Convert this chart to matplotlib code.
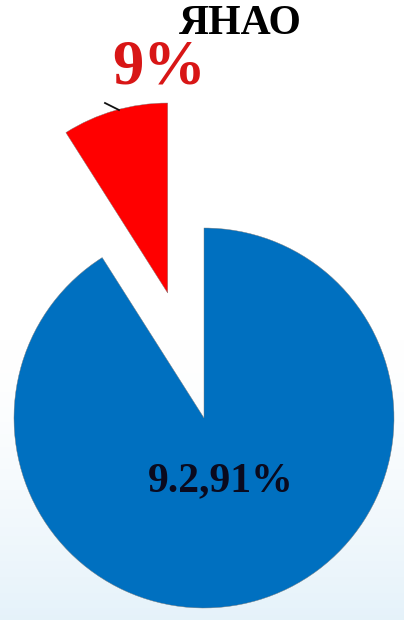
import numpy as np
import matplotlib
matplotlib.use("Agg")
import matplotlib.pyplot as plt

# data
title = "ЯНАО"
categories = ["ЯНАО прочие", "ЯНАО доля"]
values = [91, 9]
labels = ["9.2,91%", "9%"]
colors = ["#0070C0", "#FF0000"]

W, H = 404, 620
fig = plt.figure(figsize=(W / 100, H / 100), dpi=100)

# background: white with faint blue gradient to the bottom
bg = fig.add_axes([0, 0, 1, 1], zorder=0)
grad = np.linspace(0, 1, 256)[:, None]
grad = np.clip((grad - 0.55) / 0.45, 0, 1) ** 1.5
top = np.array([1.0, 1.0, 1.0])
bot = np.array([0.90, 0.95, 0.98])
img = top[None, None, :] * (1 - grad[..., None]) + bot[None, None, :] * grad[..., None]
img = np.repeat(img, 2, axis=1)
bg.imshow(img, aspect="auto", extent=[0, 1, 0, 1], origin="upper")
bg.axis("off")

ax = fig.add_axes([0, 0, 1, 1], zorder=1)
ax.patch.set_alpha(0)
R = 190.0
cx, cy = 204.0, 418.0  # pixel center (from top)

def px(x, y):
    return ((x - cx) / R, (cy - y) / R)

wedges, _ = ax.pie(values, colors=colors, startangle=90, counterclock=False,
                   explode=[0, 0.685], radius=1.0,
                   wedgeprops=dict(edgecolor="#7a7a7a", linewidth=0.3))
ax.set_aspect("auto")
x0, y0 = px(0, H)
x1, y1 = px(W, 0)
ax.set_xlim(x0, x1)
ax.set_ylim(y0, y1)
ax.axis("off")

# leader line for the small slice
lx0, ly0 = px(105, 103)
lx1, ly1 = px(119, 110)
ax.plot([lx0, lx1], [ly0, ly1], color="#111111", lw=1.3)

# labels
tx, ty = px(159, 68)
ax.text(tx, ty, labels[1], ha="center", va="center", fontsize=45,
        family="Liberation Serif", fontweight="bold", color="#D81616")
bx, by = px(221, 481)
ax.text(bx, by, labels[0], ha="center", va="center", fontsize=30,
        family="Liberation Serif", fontweight="bold", color="#0A0A1E")

fig.text(240 / W, 1 - 24 / H, title, ha="center", va="center", fontsize=30,
         family="Liberation Serif", fontweight="bold", color="black")

fig.savefig("out.png", dpi=100)
